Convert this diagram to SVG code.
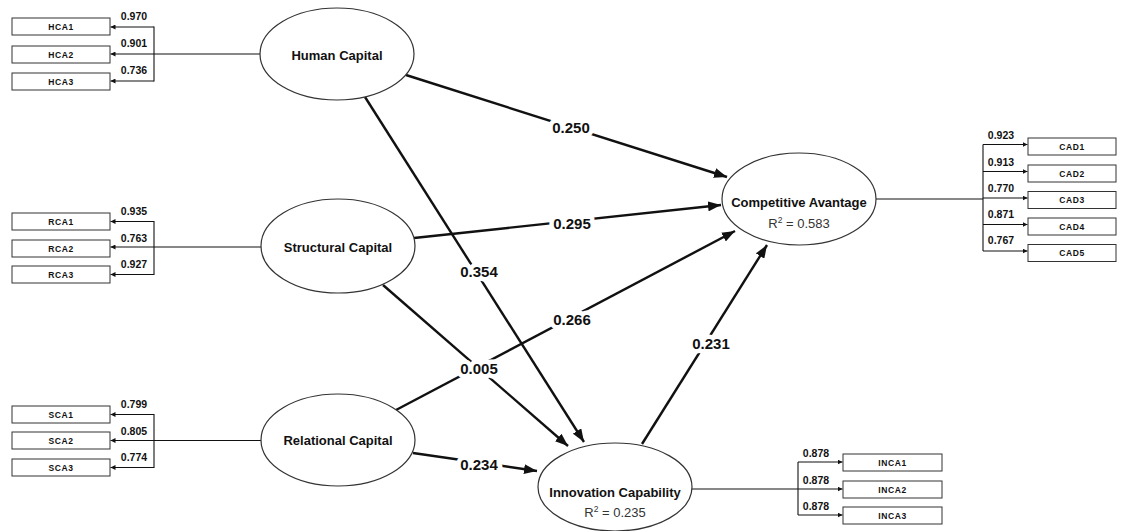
<svg xmlns="http://www.w3.org/2000/svg" width="1124" height="531" viewBox="0 0 1124 531">
<style>
text{font-family:"Liberation Sans",Arial,sans-serif;fill:#111}
.lv{fill:#fff;stroke:#333;stroke-width:1.2}
.ind{fill:#fff;stroke:#333;stroke-width:1}
.nl{font-size:13px;font-weight:bold;text-anchor:middle}
.r2{font-size:13px;text-anchor:middle;fill:#333}
.il{font-size:8.5px;font-weight:bold;text-anchor:middle;letter-spacing:0.6px}
.ld{font-size:10.5px;font-weight:bold;text-anchor:middle}
.pc{font-size:15px;font-weight:bold;text-anchor:middle;stroke:#fff;stroke-width:9;stroke-linejoin:round;paint-order:stroke}
.thin{fill:none;stroke:#111;stroke-width:1.1}
.thick{fill:none;stroke:#111;stroke-width:2.4;marker-end:url(#big)}
.ta{marker-end:url(#small)}
</style>
<defs>
<marker id="big" markerUnits="userSpaceOnUse" markerWidth="14" markerHeight="10" refX="13" refY="5" orient="auto"><path d="M0,0 L13,5 L0,10 z" fill="#111"/></marker>
<marker id="small" markerUnits="userSpaceOnUse" markerWidth="6" markerHeight="5" refX="5" refY="2.5" orient="auto"><path d="M0,0 L5,2.5 L0,5 z" fill="#111"/></marker>
</defs>
<rect width="1124" height="531" fill="#fff"/>
<g id="connectors">
<path class="thin ta" d="M260,54 H110.5"/>
<path class="thin ta" d="M154,27 H110.5"/>
<path class="thin ta" d="M154,81 H110.5"/>
<path class="thin" d="M154,26.5 V81.5"/>
<path class="thin ta" d="M261,247 H110.5"/>
<path class="thin ta" d="M154,221.5 H110.5"/>
<path class="thin ta" d="M154,274.5 H110.5"/>
<path class="thin" d="M154,221 V275"/>
<path class="thin ta" d="M261,440.5 H110.5"/>
<path class="thin ta" d="M154,414.5 H110.5"/>
<path class="thin ta" d="M154,467.5 H110.5"/>
<path class="thin" d="M154,414 V468"/>
<path class="thin" d="M876,199 H983"/>
<path class="thin" d="M983,144.5 V251"/>
<path class="thin ta" d="M983,144.5 H1027.5"/>
<path class="thin ta" d="M983,171.5 H1027.5"/>
<path class="thin ta" d="M983,198 H1027.5"/>
<path class="thin ta" d="M983,224.5 H1027.5"/>
<path class="thin ta" d="M983,251 H1027.5"/>
<path class="thin" d="M692,489 H798"/>
<path class="thin" d="M798,462 V515"/>
<path class="thin ta" d="M798,462 H842.5"/>
<path class="thin ta" d="M798,489 H842.5"/>
<path class="thin ta" d="M798,515 H842.5"/>
<path class="thick" d="M406,75 L727,177"/>
<path class="thick" d="M414,238 L721,205"/>
<path class="thick" d="M365,97 L584,442"/>
<path class="thick" d="M383,285 L568,446"/>
<path class="thick" d="M396,410 L735,231"/>
<path class="thick" d="M642,444 L767,245"/>
<path class="thick" d="M413,453 L537,471"/>
<text class="pc" x="571" y="133">0.250</text>
<text class="pc" x="572" y="228.5">0.295</text>
<text class="pc" x="479" y="277">0.354</text>
<text class="pc" x="479" y="373.5">0.005</text>
<text class="pc" x="572" y="324.5">0.266</text>
<text class="pc" x="711" y="348.5">0.231</text>
<text class="pc" x="479" y="470">0.234</text>
<text class="ld" x="134" y="19.5">0.970</text>
<text class="ld" x="134" y="46.5">0.901</text>
<text class="ld" x="134" y="73.5">0.736</text>
<text class="ld" x="134" y="214.5">0.935</text>
<text class="ld" x="134" y="241.5">0.763</text>
<text class="ld" x="134" y="267.5">0.927</text>
<text class="ld" x="134" y="407.5">0.799</text>
<text class="ld" x="134" y="434.5">0.805</text>
<text class="ld" x="134" y="460.5">0.774</text>
<text class="ld" x="1001" y="138.5">0.923</text>
<text class="ld" x="1001" y="165.5">0.913</text>
<text class="ld" x="1001" y="191.5">0.770</text>
<text class="ld" x="1001" y="217.5">0.871</text>
<text class="ld" x="1001" y="243.5">0.767</text>
<text class="ld" x="816" y="456.5">0.878</text>
<text class="ld" x="816" y="483.5">0.878</text>
<text class="ld" x="816" y="509.5">0.878</text>
</g>
<g id="human-capital"><ellipse class="lv" cx="337" cy="54" rx="77" ry="46"/><text class="nl" x="337" y="59.5">Human Capital</text></g>
<g id="structural-capital"><ellipse class="lv" cx="338" cy="246" rx="77" ry="47"/><text class="nl" x="338" y="252">Structural Capital</text></g>
<g id="relational-capital"><ellipse class="lv" cx="338" cy="440" rx="77" ry="46"/><text class="nl" x="338" y="444.5">Relational Capital</text></g>
<g id="competitive-avantage"><ellipse class="lv" cx="799" cy="199" rx="77" ry="46"/><text class="nl" x="799" y="206.5">Competitive Avantage</text><text class="r2" x="799" y="228">R<tspan font-size="8.5" dy="-5">2</tspan><tspan dy="5"> = 0.583</tspan></text></g>
<g id="innovation-capability"><ellipse class="lv" cx="615" cy="487" rx="77" ry="44"/><text class="nl" x="615" y="496.5">Innovation Capability</text><text class="r2" x="615" y="517">R<tspan font-size="8.5" dy="-5">2</tspan><tspan dy="5"> = 0.235</tspan></text></g>
<g id="HCA1"><rect class="ind" x="12" y="18" width="98" height="17"/><text class="il" x="61" y="29.5">HCA1</text></g>
<g id="HCA2"><rect class="ind" x="12" y="46" width="98" height="17"/><text class="il" x="61" y="57.5">HCA2</text></g>
<g id="HCA3"><rect class="ind" x="12" y="73" width="98" height="17"/><text class="il" x="61" y="84.5">HCA3</text></g>
<g id="RCA1"><rect class="ind" x="12" y="213" width="98" height="17"/><text class="il" x="61" y="224.5">RCA1</text></g>
<g id="RCA2"><rect class="ind" x="12" y="240" width="98" height="17"/><text class="il" x="61" y="251.5">RCA2</text></g>
<g id="RCA3"><rect class="ind" x="12" y="266" width="98" height="17"/><text class="il" x="61" y="277.5">RCA3</text></g>
<g id="SCA1"><rect class="ind" x="12" y="406" width="98" height="17"/><text class="il" x="61" y="417.5">SCA1</text></g>
<g id="SCA2"><rect class="ind" x="12" y="432" width="98" height="17"/><text class="il" x="61" y="443.5">SCA2</text></g>
<g id="SCA3"><rect class="ind" x="12" y="459" width="98" height="17"/><text class="il" x="61" y="470.5">SCA3</text></g>
<g id="CAD1"><rect class="ind" x="1028" y="138" width="88" height="17"/><text class="il" x="1072" y="149.5">CAD1</text></g>
<g id="CAD2"><rect class="ind" x="1028" y="165" width="88" height="17"/><text class="il" x="1072" y="176.5">CAD2</text></g>
<g id="CAD3"><rect class="ind" x="1028" y="191.5" width="88" height="17"/><text class="il" x="1072" y="203">CAD3</text></g>
<g id="CAD4"><rect class="ind" x="1028" y="218" width="88" height="17"/><text class="il" x="1072" y="229.5">CAD4</text></g>
<g id="CAD5"><rect class="ind" x="1028" y="244.5" width="88" height="17"/><text class="il" x="1072" y="256">CAD5</text></g>
<g id="INCA1"><rect class="ind" x="843" y="454" width="99" height="17"/><text class="il" x="892.5" y="465.5">INCA1</text></g>
<g id="INCA2"><rect class="ind" x="843" y="481" width="99" height="17"/><text class="il" x="892.5" y="492.5">INCA2</text></g>
<g id="INCA3"><rect class="ind" x="843" y="507" width="99" height="17"/><text class="il" x="892.5" y="518.5">INCA3</text></g>
</svg>
